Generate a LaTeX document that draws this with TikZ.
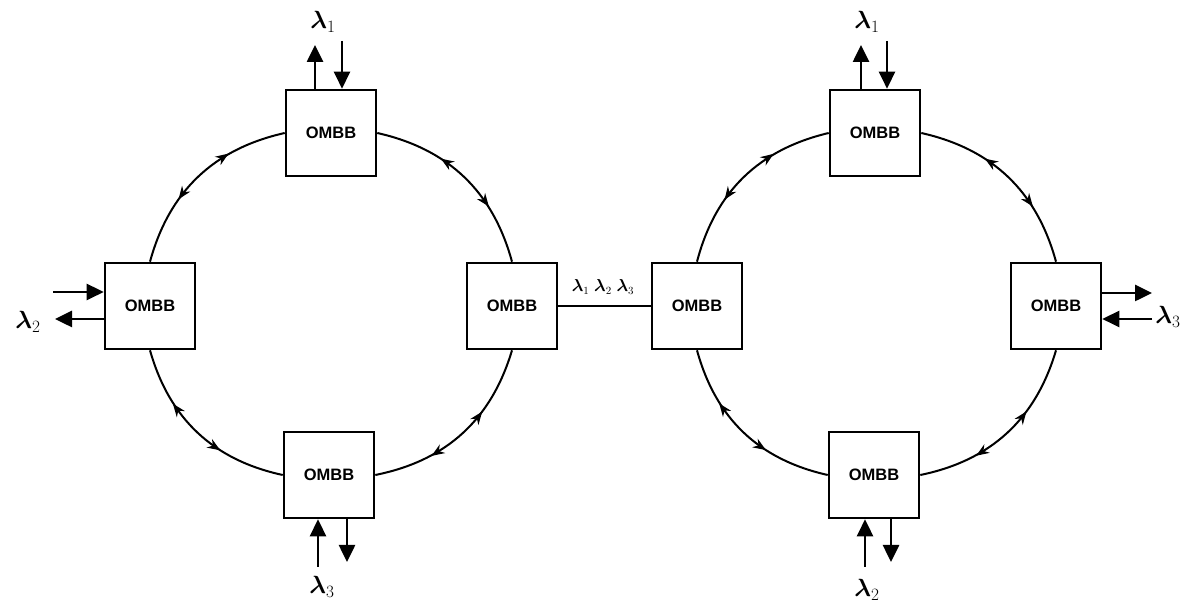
\documentclass[tikz,border=0pt]{standalone}
\usepackage{bm}
\usepackage{fontspec}
\newfontfamily\ombbfont{Liberation Sans}
\usetikzlibrary{arrows.meta,decorations.markings}
\begin{document}
\begin{tikzpicture}[x=1pt,y=1pt,
 box/.style={draw,line width=2.6pt,minimum width=90pt,minimum height=86pt,inner sep=0pt,font=\ombbfont\bfseries\fontsize{16.5}{17}\selectfont},
 ring/.style={line width=2pt,postaction={decorate},decoration={markings,
   mark=at position 0.37 with {\arrow{Stealth[length=13pt,width=10pt,reversed]}},
   mark=at position 0.65 with {\arrow{Stealth[length=13pt,width=10pt]}}}},
 io/.style={line width=2.6pt,-{Triangle[length=17pt,width=16pt]}},
 lam/.style={font=\fontsize{24}{26}\selectfont,inner sep=0pt}]
\useasboundingbox (0,0) rectangle (1186,609);

% left ring
\node[box] (T1) at (331,476) {OMBB};
\node[box] (L1) at (150,303) {OMBB};
\node[box] (R1) at (512,303) {OMBB};
\node[box] (B1) at (329,134) {OMBB};
% right ring
\node[box] (T2) at (875,476) {OMBB};
\node[box] (L2) at (697,303) {OMBB};
\node[box] (R2) at (1056,303) {OMBB};
\node[box] (B2) at (874,134) {OMBB};

% ring arcs
\draw[ring] (R1.north) to[bend right=31] (T1.east);
\draw[ring] (T1.west) to[bend right=31] (L1.north);
\draw[ring] (L1.south) to[bend right=31] (B1.west);
\draw[ring] (B1.east) to[bend right=31] (R1.south);
\draw[ring] (R2.north) to[bend right=31] (T2.east);
\draw[ring] (T2.west) to[bend right=31] (L2.north);
\draw[ring] (L2.south) to[bend right=31] (B2.west);
\draw[ring] (B2.east) to[bend right=31] (R2.south);

% link between rings
\draw[line width=2pt] (R1.east) -- (L2.west);
\node[font=\fontsize{16}{18}\selectfont,inner sep=0pt] (mid) at (603,322) {$\bm{\lambda}_1\ \bm{\lambda}_2\ \bm{\lambda}_3$};

% T1 ports
\coordinate (t1u) at (315,564);
\coordinate (t1d) at (342,568);
\draw[io] (T1.north -| t1u) -- (t1u);
\draw[io] (t1d) -- (T1.north -| t1d);
\node[lam] (lt1) at (323,587) {$\bm{\lambda}_1$};
% L1 ports
\coordinate (l1i) at (53,317);
\coordinate (l1o) at (55,290);
\draw[io] (l1i) -- (L1.west |- l1i);
\draw[io] (L1.west |- l1o) -- (l1o);
\node[lam] (ll1) at (28,287) {$\bm{\lambda}_2$};
% B1 ports
\coordinate (b1u) at (318,42);
\coordinate (b1d) at (347,47);
\draw[io] (b1u) -- (B1.south -| b1u);
\draw[io] (B1.south -| b1d) -- (b1d);
\node[lam] (lb1) at (322,22) {$\bm{\lambda}_3$};

% T2 ports
\coordinate (t2u) at (861,564);
\coordinate (t2d) at (887,568);
\draw[io] (T2.north -| t2u) -- (t2u);
\draw[io] (t2d) -- (T2.north -| t2d);
\node[lam] (lt2) at (867,587) {$\bm{\lambda}_1$};
% R2 ports
\coordinate (r2o) at (1152,316);
\coordinate (r2i) at (1152,290);
\draw[io] (R2.east |- r2o) -- (r2o);
\draw[io] (r2i) -- (R2.east |- r2i);
\node[lam] (lr2) at (1168,292) {$\bm{\lambda}_3$};
% B2 ports
\coordinate (b2u) at (865,42);
\coordinate (b2d) at (891,47);
\draw[io] (b2u) -- (B2.south -| b2u);
\draw[io] (B2.south -| b2d) -- (b2d);
\node[lam] (lb2) at (867,19) {$\bm{\lambda}_2$};
\end{tikzpicture}
\end{document}
